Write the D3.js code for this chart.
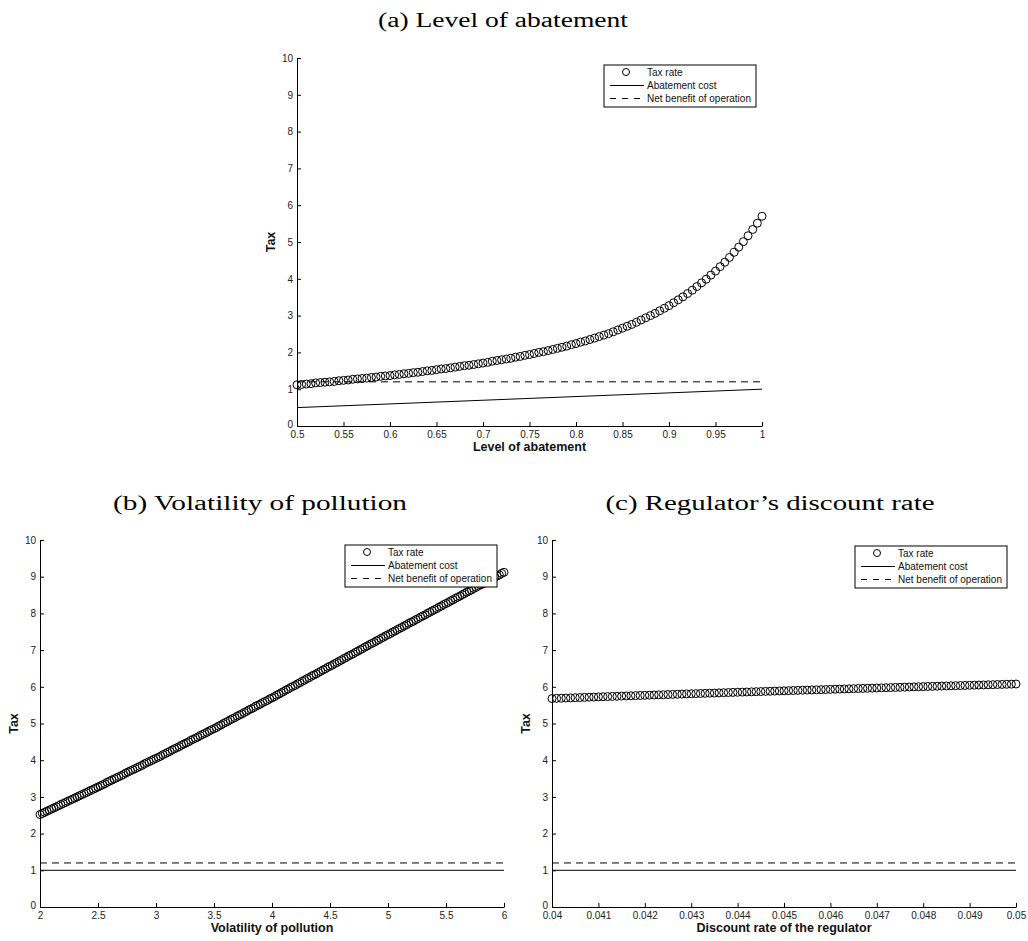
<!DOCTYPE html>
<html><head><meta charset="utf-8">
<script src="https://cdn.jsdelivr.net/npm/d3@7"></script>
<style>
body{margin:0;background:#fff}
svg{display:block}
</style>
</head><body>
<svg id="chart" width="1028" height="941"></svg>
<script>
// ---------------- DATA ----------------
const panelTitles = ["(a) Level of abatement", "(b) Volatility of pollution", "(c) Regulator\u2019s discount rate"];
const xAxisLabels = ["Level of abatement", "Volatility of pollution", "Discount rate of the regulator"];
const yAxisLabel = "Tax";
const legendLabels = ["Tax rate", "Abatement cost", "Net benefit of operation"];

const yTicks = [0,1,2,3,4,5,6,7,8,9,10];
const yTickLabels = ["0","1","2","3","4","5","6","7","8","9","10"];

const xTicksA = [0.5,0.55,0.6,0.65,0.7,0.75,0.8,0.85,0.9,0.95,1];
const xTickLabelsA = ["0.5","0.55","0.6","0.65","0.7","0.75","0.8","0.85","0.9","0.95","1"];
const xTicksB = [2,2.5,3,3.5,4,4.5,5,5.5,6];
const xTickLabelsB = ["2","2.5","3","3.5","4","4.5","5","5.5","6"];
const xTicksC = [0.04,0.041,0.042,0.043,0.044,0.045,0.046,0.047,0.048,0.049,0.05];
const xTickLabelsC = ["0.04","0.041","0.042","0.043","0.044","0.045","0.046","0.047","0.048","0.049","0.05"];

// x grids (parameter values at which the tax was computed)
const abatementLevels = d3.range(101).map(i => +(0.5 + i * 0.005).toFixed(4));
const pollutionVolatility = d3.range(201).map(i => +(2 + i * 0.02).toFixed(4));
const discountRates = d3.range(101).map(i => +(0.04 + i * 0.0001).toFixed(5));

// (a) tax rate vs level of abatement
const taxA = [
1.12,1.13,1.14,1.15,1.17,1.18,1.19,1.20,1.21,1.23,
1.24,1.25,1.27,1.28,1.29,1.30,1.32,1.33,1.35,1.36,
1.37,1.39,1.40,1.42,1.43,1.45,1.46,1.48,1.50,1.51,
1.53,1.55,1.56,1.58,1.60,1.62,1.64,1.65,1.67,1.69,
1.71,1.73,1.76,1.78,1.80,1.82,1.84,1.87,1.89,1.92,
1.94,1.97,2.00,2.02,2.05,2.08,2.11,2.14,2.17,2.21,
2.24,2.28,2.31,2.35,2.39,2.43,2.47,2.51,2.56,2.61,
2.66,2.71,2.76,2.82,2.88,2.94,3.00,3.06,3.13,3.20,
3.27,3.35,3.43,3.51,3.60,3.69,3.79,3.89,3.99,4.10,
4.21,4.33,4.45,4.58,4.72,4.86,5.01,5.17,5.34,5.51,
5.70];
const abatementCostAX = [0.5, 1.0];
const abatementCostA = [0.5, 1.0];

// (b) tax rate vs volatility of pollution
const taxB = [
2.52,2.55,2.58,2.61,2.64,2.67,2.70,2.73,2.76,2.79,2.82,2.85,2.88,2.91,2.94,2.97,3.00,3.03,3.06,3.09,3.12,3.15,3.18,3.21,3.24,3.27,
3.30,3.33,3.36,3.40,3.43,3.46,3.49,3.52,3.55,3.58,3.61,3.65,3.68,3.71,3.74,3.77,3.80,3.83,3.86,3.90,3.93,3.96,3.99,4.02,4.05,
4.08,4.11,4.15,4.18,4.21,4.24,4.28,4.31,4.34,4.37,4.41,4.44,4.47,4.50,4.54,4.57,4.60,4.63,4.67,4.70,4.73,4.76,4.80,4.83,4.86,
4.89,4.93,4.96,5.00,5.03,5.06,5.10,5.13,5.16,5.20,5.23,5.26,5.30,5.33,5.37,5.40,5.43,5.47,5.50,5.53,5.57,5.60,5.63,5.67,5.70,
5.73,5.77,5.80,5.84,5.87,5.91,5.94,5.98,6.01,6.04,6.08,6.11,6.15,6.18,6.22,6.25,6.29,6.32,6.35,6.39,6.42,6.46,6.49,6.53,6.56,
6.59,6.63,6.66,6.70,6.73,6.77,6.80,6.84,6.87,6.90,6.94,6.97,7.01,7.04,7.08,7.11,7.15,7.18,7.21,7.25,7.28,7.32,7.35,7.39,7.42,
7.45,7.49,7.52,7.56,7.59,7.62,7.66,7.69,7.73,7.76,7.79,7.83,7.86,7.90,7.93,7.96,8.00,8.03,8.07,8.10,8.13,8.17,8.20,8.24,8.27,
8.30,8.34,8.37,8.41,8.44,8.47,8.51,8.54,8.58,8.61,8.64,8.68,8.71,8.75,8.78,8.81,8.85,8.88,8.92,8.95,8.98,9.02,9.05,9.09,9.12];

// (c) tax rate vs discount rate of the regulator
const taxC = [
5.680,5.685,5.689,5.694,5.698,5.703,5.707,5.712,5.716,5.721,
5.725,5.729,5.734,5.738,5.742,5.747,5.751,5.755,5.760,5.764,
5.768,5.772,5.776,5.781,5.785,5.789,5.793,5.797,5.802,5.806,
5.810,5.814,5.818,5.822,5.826,5.830,5.835,5.839,5.843,5.847,
5.851,5.855,5.859,5.863,5.867,5.871,5.875,5.879,5.883,5.887,
5.891,5.895,5.899,5.903,5.907,5.911,5.915,5.919,5.922,5.926,
5.930,5.934,5.938,5.941,5.945,5.949,5.953,5.957,5.960,5.964,
5.968,5.972,5.975,5.979,5.983,5.986,5.990,5.994,5.998,6.001,
6.005,6.009,6.012,6.016,6.019,6.023,6.027,6.030,6.034,6.037,
6.041,6.044,6.048,6.051,6.055,6.058,6.062,6.065,6.069,6.072,
6.076];

const abatementCostBC = [1, 1];
const netBenefit = [1.2, 1.2];

// ---------------- LAYOUT ----------------
const svg = d3.select("#chart");
svg.append("rect").attr("width",1028).attr("height",941).attr("fill","#fff");

const panels = [
  {title: panelTitles[0], titleX: 503, titleY: 27, titleW: 250,
   left: 297, right: 762, top: 58, bottom: 426,
   xDomain: [0.5, 1], xTicks: xTicksA, xTickLabels: xTickLabelsA, xLabel: xAxisLabels[0],
   xs: abatementLevels, tax: taxA,
   costX: abatementCostAX, cost: abatementCostA,
   legend: {x: 604, y: 65}},
  {title: panelTitles[1], titleX: 260, titleY: 510, titleW: 294,
   left: 40, right: 504, top: 540, bottom: 907,
   xDomain: [2, 6], xTicks: xTicksB, xTickLabels: xTickLabelsB, xLabel: xAxisLabels[1],
   xs: pollutionVolatility, tax: taxB,
   costX: [2, 6], cost: abatementCostBC,
   legend: {x: 345, y: 545}},
  {title: panelTitles[2], titleX: 770, titleY: 510, titleW: 329,
   left: 552, right: 1016, top: 540, bottom: 907,
   xDomain: [0.04, 0.05], xTicks: xTicksC, xTickLabels: xTickLabelsC, xLabel: xAxisLabels[2],
   xs: discountRates, tax: taxC,
   costX: [0.04, 0.05], cost: abatementCostBC,
   legend: {x: 855, y: 546}}
];

const sansFont = "'Liberation Sans', Arial, Helvetica, sans-serif";
const serifFont = "'Liberation Serif', 'Times New Roman', serif";

panels.forEach(p => {
  const x = d3.scaleLinear().domain(p.xDomain).range([p.left, p.right]);
  const y = d3.scaleLinear().domain([0, 10]).range([p.bottom, p.top]);

  // title
  svg.append("text")
    .attr("x", p.titleX - p.titleW / 2).attr("y", p.titleY)
    .attr("font-family", serifFont)
    .attr("font-size", 20.5)
    .attr("textLength", p.titleW)
    .attr("lengthAdjust", "spacingAndGlyphs")
    .attr("fill", "#000")
    .text(p.title);

  const g = svg.append("g");

  // lines
  const line = d3.line().x(d => x(d[0])).y(d => y(d[1]));
  g.append("path")
    .datum(p.costX.map((v, i) => [v, p.cost[i]]))
    .attr("d", line).attr("fill", "none").attr("stroke", "#000").attr("stroke-width", 1);
  g.append("path")
    .datum(p.costX.map((v, i) => [v, netBenefit[i]]))
    .attr("d", line).attr("fill", "none").attr("stroke", "#000").attr("stroke-width", 1)
    .attr("stroke-dasharray", "7,5");

  // markers
  g.append("g").selectAll("circle")
    .data(p.xs.map((v, i) => [v, p.tax[i]]))
    .join("circle")
    .attr("cx", d => x(d[0])).attr("cy", d => y(d[1]))
    .attr("r", 4)
    .attr("fill", "none").attr("stroke", "#000").attr("stroke-width", 1);

  // axes
  const xAxis = d3.axisBottom(x).tickValues(p.xTicks)
    .tickFormat((d, i) => p.xTickLabels[i])
    .tickSizeInner(-4).tickSizeOuter(0).tickPadding(5);
  const yAxis = d3.axisLeft(y).tickValues(yTicks)
    .tickFormat((d, i) => yTickLabels[i])
    .tickSizeInner(-4).tickSizeOuter(0).tickPadding(4);

  const gx = svg.append("g").attr("transform", `translate(0,${p.bottom})`).call(xAxis);
  const gy = svg.append("g").attr("transform", `translate(${p.left},0)`).call(yAxis);
  [gx, gy].forEach(a => {
    a.attr("font-family", sansFont).attr("font-size", 10);
    a.selectAll("path,line").attr("stroke", "#000").attr("stroke-width", 1);
    a.selectAll("text").attr("fill", "#222");
  });
  // lift the y "0" label slightly, as in the reference, so it sits above the x origin label
  gy.selectAll(".tick text").filter((d) => d === 0).attr("dy", "0.1em");

  // axis labels
  svg.append("text")
    .attr("x", (p.left + p.right) / 2).attr("y", p.bottom + 25)
    .attr("text-anchor", "middle")
    .attr("font-family", sansFont).attr("font-weight", "bold").attr("font-size", 12.5)
    .attr("fill", "#111")
    .text(p.xLabel);
  svg.append("text")
    .attr("transform", `translate(${p.left - 22},${(p.top + p.bottom) / 2}) rotate(-90)`)
    .attr("text-anchor", "middle")
    .attr("font-family", sansFont).attr("font-weight", "bold").attr("font-size", 12.5)
    .attr("fill", "#111")
    .text(yAxisLabel);

  // legend
  const lg = svg.append("g").attr("transform", `translate(${p.legend.x},${p.legend.y})`);
  const lw = 152, lh = 42;
  lg.append("rect").attr("width", lw).attr("height", lh)
    .attr("fill", "#fff").attr("stroke", "#000").attr("stroke-width", 1);
  const rows = [7, 20.5, 33.5];
  lg.append("circle").attr("cx", 22).attr("cy", rows[0]).attr("r", 3.5)
    .attr("fill", "none").attr("stroke", "#000").attr("stroke-width", 1);
  lg.append("line").attr("x1", 6).attr("x2", 40).attr("y1", rows[1]).attr("y2", rows[1])
    .attr("stroke", "#000").attr("stroke-width", 1);
  lg.append("line").attr("x1", 6).attr("x2", 40).attr("y1", rows[2]).attr("y2", rows[2])
    .attr("stroke", "#000").attr("stroke-width", 1).attr("stroke-dasharray", "6,6");
  legendLabels.forEach((t, i) => {
    lg.append("text").attr("x", 43).attr("y", rows[i]).attr("dy", "0.35em")
      .attr("font-family", sansFont).attr("font-size", 10).attr("fill", "#111")
      .text(t);
  });
});
</script>
</body></html>
